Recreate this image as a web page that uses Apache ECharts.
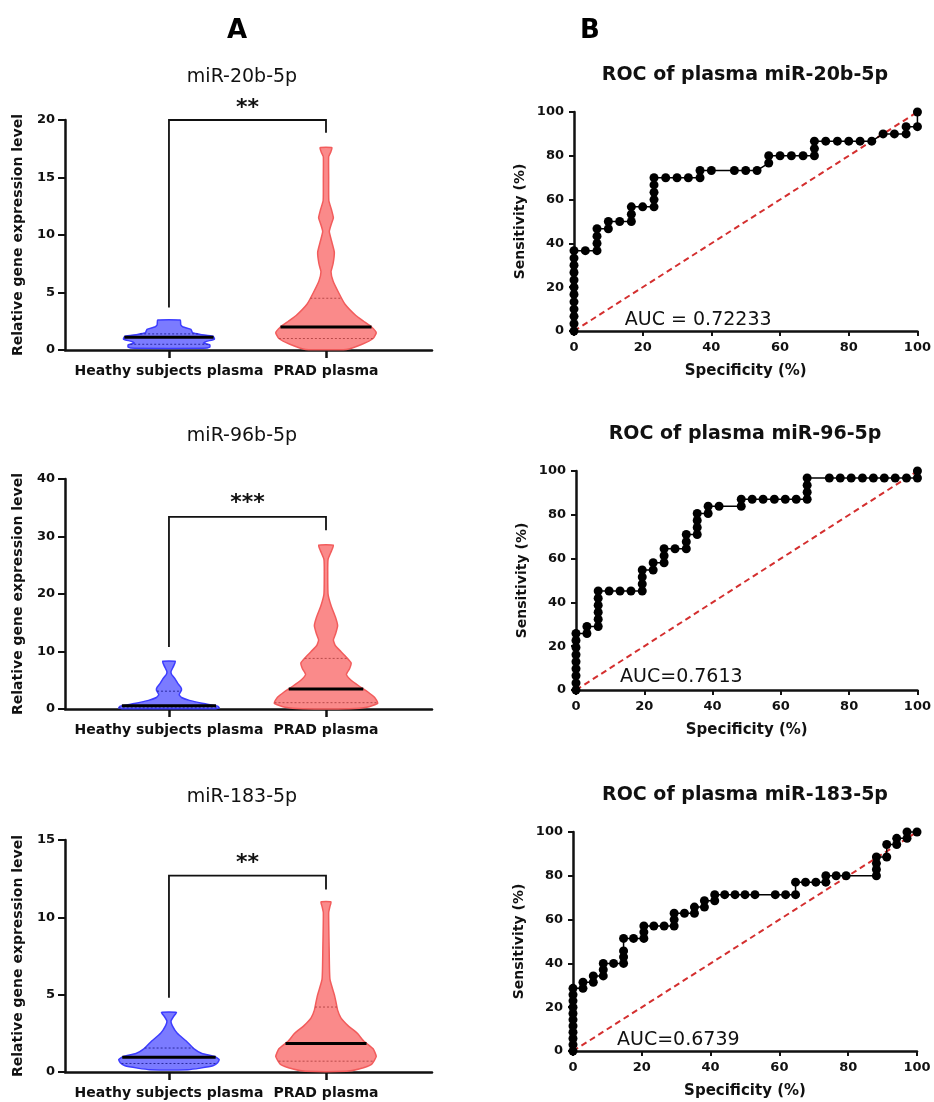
<!DOCTYPE html>
<html>
<head>
<meta charset="utf-8">
<script src="https://cdn.jsdelivr.net/npm/echarts@6/dist/echarts.min.js"></script>
<style>
  html, body { margin: 0; padding: 0; background: #fff; }
  #chart { width: 934px; height: 1102px; }
</style>
</head>
<body>
<div id="chart"></div>
<script>
const FONT = "DejaVu Sans";

const groupNames = ["Heathy subjects plasma", "PRAD plasma"];
const violinTitles = ["miR-20b-5p", "miR-96b-5p", "miR-183-5p"];
const rocTitles = ["ROC of plasma miR-20b-5p", "ROC of plasma miR-96-5p", "ROC of plasma miR-183-5p"];
const aucLabels = ["AUC = 0.72233", "AUC=0.7613", "AUC=0.6739"];
const sigStars = ["**", "***", "**"];
const violinMax = [20, 40, 15];
const violinStep = [5, 10, 5];

// violin outlines: [expression level, half width in group units]
const healthy20b = [[0.15,0.22],[0.25,0.26],[0.45,0.26],[0.6,0.22],[0.75,0.24],[0.95,0.29],[1.2,0.28],[1.35,0.2],[1.5,0.15],[1.8,0.14],[2.0,0.09],[2.2,0.075],[2.6,0.072]];
const prad20b = [[0.05,0.13],[0.5,0.23],[1.0,0.3],[1.5,0.32],[2.0,0.29],[2.5,0.24],[3.0,0.19],[4.0,0.12],[5.0,0.08],[6.0,0.045],[6.8,0.032],[7.5,0.045],[8.5,0.053],[9.5,0.035],[10.3,0.021],[11.0,0.035],[11.5,0.047],[12.2,0.035],[13,0.018],[15,0.017],[16.8,0.017],[17.2,0.03],[17.6,0.038]];
const healthy96 = [[0.05,0.3],[0.2,0.32],[0.5,0.31],[1.0,0.21],[1.5,0.13],[2.0,0.08],[2.5,0.065],[3.3,0.08],[3.8,0.075],[4.5,0.055],[5.2,0.04],[6.0,0.017],[6.5,0.013],[7.5,0.03],[8.3,0.04]];
const prad96 = [[0.05,0.15],[0.3,0.26],[1.0,0.33],[2.0,0.31],[3.0,0.265],[4.0,0.21],[5.0,0.16],[6.0,0.13],[7.0,0.15],[8.0,0.16],[9.0,0.13],[10.0,0.095],[11.0,0.06],[12.0,0.047],[13.0,0.06],[14.5,0.074],[16.0,0.06],[18.0,0.032],[20.0,0.013],[24,0.011],[26,0.013],[27.5,0.035],[28.5,0.047]];
const healthy183 = [[0.15,0.12],[0.25,0.2],[0.4,0.28],[0.6,0.31],[0.8,0.32],[1.0,0.29],[1.2,0.21],[1.5,0.16],[2.0,0.11],[2.5,0.053],[3.0,0.021],[3.3,0.013],[3.6,0.03],[3.85,0.047]];
const prad183 = [[0.05,0.13],[0.2,0.21],[0.5,0.29],[1.0,0.32],[1.5,0.3],[2.0,0.24],[2.5,0.2],[3.0,0.14],[3.5,0.095],[4.0,0.074],[4.5,0.064],[5.0,0.053],[6.0,0.025],[8,0.02],[10.3,0.017],[10.7,0.025],[11,0.032]];

// [median, lower quartile, upper quartile]
const healthy20bStats = [1.1, 0.5, 1.4];
const prad20bStats = [2.0, 1.0, 4.5];
const healthy96Stats = [0.55, 0.2, 3.1];
const prad96Stats = [3.5, 1.1, 8.8];
const healthy183Stats = [0.95, 0.55, 1.55];
const prad183Stats = [1.85, 0.7, 4.2];

// significance bracket: [left leg end, bar level, right leg end, stars level]
const bracket20b = [3.7, 20, 18.9, 21.0];
const bracket96 = [10.8, 33.4, 31.1, 35.8];
const bracket183 = [4.8, 12.7, 11.8, 13.5];

// ROC points (specificity %, sensitivity %)
const roc20bSpec = [0,0,0,0,0,0,0,0,0,0,0,0,3.3,6.7,6.7,6.7,6.7,10,10,13.3,16.7,16.7,16.7,20,23.3,23.3,23.3,23.3,23.3,26.7,30,33.3,36.7,36.7,40,46.7,50,53.3,56.7,56.7,60,63.3,66.7,70,70,70,73.3,76.7,80,83.3,86.7,90,93.3,96.7,96.7,100,100];
const roc20bSens = [0,3.3,6.7,10,13.3,16.7,20,23.3,26.7,30,33.3,36.7,36.7,36.7,40,43.3,46.7,46.7,50,50,50,53.3,56.7,56.7,56.7,60,63.3,66.7,70,70,70,70,70,73.3,73.3,73.3,73.3,73.3,76.7,80,80,80,80,80,83.3,86.7,86.7,86.7,86.7,86.7,86.7,90,90,90,93.3,93.3,100];

const roc96Spec = [0,0,0,0,0,0,0,0,0,3.2,3.2,6.5,6.5,6.5,6.5,6.5,6.5,9.7,12.9,16.1,19.4,19.4,19.4,19.4,22.6,22.6,25.8,25.8,25.8,29,32.3,32.3,32.3,35.5,35.5,35.5,35.5,38.7,38.7,41.9,48.4,48.4,51.6,54.8,58.1,61.3,64.5,67.7,67.7,67.7,67.7,74.2,77.4,80.6,83.9,87.1,90.3,93.5,96.8,100,100];
const roc96Sens = [0,3.2,6.5,9.7,12.9,16.1,19.4,22.6,25.8,25.8,29,29,32.3,35.5,38.7,41.9,45.2,45.2,45.2,45.2,45.2,48.4,51.6,54.8,54.8,58.1,58.1,61.3,64.5,64.5,64.5,67.7,71,71,74.2,77.4,80.6,80.6,83.9,83.9,83.9,87.1,87.1,87.1,87.1,87.1,87.1,87.1,90.3,93.5,96.8,96.8,96.8,96.8,96.8,96.8,96.8,96.8,96.8,96.8,100];

const roc183Spec = [0,0,0,0,0,0,0,0,0,0,0,2.9,2.9,5.9,5.9,8.8,8.8,8.8,11.8,14.7,14.7,14.7,14.7,17.6,20.6,20.6,20.6,23.5,26.5,29.4,29.4,29.4,32.4,35.3,35.3,38.2,38.2,41.2,41.2,44.1,47.1,50,52.9,58.8,61.8,64.7,64.7,67.6,70.6,73.5,73.5,76.5,79.4,88.2,88.2,88.2,88.2,91.2,91.2,94.1,94.1,97.1,97.1,100];
const roc183Sens = [0,2.9,5.7,8.6,11.4,14.3,17.1,20,22.9,25.7,28.6,28.6,31.4,31.4,34.3,34.3,37.1,40,40,40,42.9,45.7,51.4,51.4,51.4,54.3,57.1,57.1,57.1,57.1,60,62.9,62.9,62.9,65.7,65.7,68.6,68.6,71.4,71.4,71.4,71.4,71.4,71.4,71.4,71.4,77.1,77.1,77.1,77.1,80,80,80,80,82.9,85.7,88.6,88.6,94.3,94.3,97.1,97.1,100,100];

const chance = [[0, 0], [100, 100]];

const violinColors = [
  { fill: "rgba(100,100,255,0.85)", edge: "#3d3dff", quart: "#2a2aa0" },
  { fill: "rgba(250,125,125,0.9)", edge: "#f25c5c", quart: "#b84a4a" }
];

const violinSets = [
  { profiles: [healthy20b, prad20b], stats: [healthy20bStats, prad20bStats], bracket: bracket20b },
  { profiles: [healthy96, prad96], stats: [healthy96Stats, prad96Stats], bracket: bracket96 },
  { profiles: [healthy183, prad183], stats: [healthy183Stats, prad183Stats], bracket: bracket183 }
];
const rocSets = [
  { spec: roc20bSpec, sens: roc20bSens, auc: [14.8, 5] },
  { spec: roc96Spec, sens: roc96Sens, auc: [12.9, 5.9] },
  { spec: roc183Spec, sens: roc183Sens, auc: [12.8, 5] }
];

function widthAt(prof, v) {
  if (v <= prof[0][0]) return prof[0][1];
  for (let i = 1; i < prof.length; i++) {
    if (v <= prof[i][0]) {
      const a = prof[i - 1], b = prof[i];
      return a[1] + (b[1] - a[1]) * (v - a[0]) / (b[0] - a[0]);
    }
  }
  return prof[prof.length - 1][1];
}

function violinItem(set) {
  return function (params, api) {
    const k = params.dataIndex;
    const prof = set.profiles[k], st = set.stats[k], col = violinColors[k];
    const c = k + 1;
    const pts = prof.map(p => api.coord([c + p[1], p[0]]))
      .concat(prof.slice().reverse().map(p => api.coord([c - p[1], p[0]])));
    const seg = (v, style) => {
      const w = widthAt(prof, v);
      const a = api.coord([c - w, v]), b = api.coord([c + w, v]);
      return { type: "line", shape: { x1: a[0], y1: a[1], x2: b[0], y2: b[1] }, style };
    };
    return {
      type: "group",
      children: [
        { type: "polygon", shape: { points: pts, smooth: 0.15 }, style: { fill: col.fill, stroke: col.edge, lineWidth: 1.5 } },
        seg(st[1], { stroke: col.quart, lineWidth: 1, lineDash: [2, 2] }),
        seg(st[2], { stroke: col.quart, lineWidth: 1, lineDash: [2, 2] }),
        seg(st[0], { stroke: "#000", lineWidth: 3 })
      ]
    };
  };
}

function bracketItem(b, stars) {
  return function (params, api) {
    const pts = [api.coord([1, b[0]]), api.coord([1, b[1]]), api.coord([2, b[1]]), api.coord([2, b[2]])];
    const t = api.coord([1.5, b[3]]);
    return {
      type: "group",
      children: [
        { type: "polyline", shape: { points: pts }, style: { stroke: "#111", lineWidth: 1.8, fill: null } },
        { type: "text", x: t[0], y: t[1], style: { text: stars, font: "bold 22px " + FONT, fill: "#111", align: "center", verticalAlign: "middle" } }
      ]
    };
  };
}

function textItem(pos, label) {
  return function (params, api) {
    const p = api.coord(pos);
    return { type: "text", x: p[0], y: p[1], style: { text: label, font: "19px " + FONT, fill: "#111", align: "left", verticalAlign: "middle" } };
  };
}

const violinGrids = [
  { left: 65, top: 120, width: 367, height: 230 },
  { left: 65, top: 479, width: 367, height: 230 },
  { left: 65, top: 840, width: 367, height: 232 }
];
const rocGrids = [
  { left: 574, top: 112, width: 344, height: 219 },
  { left: 576, top: 471, width: 342, height: 219 },
  { left: 573, top: 832, width: 344, height: 219 }
];

const axisLine = { lineStyle: { color: "#111", width: 2.5 } };
const grid = [], xAxis = [], yAxis = [], series = [], graphic = [];

violinSets.forEach((set, i) => {
  const g = violinGrids[i];
  grid.push(g);
  xAxis.push({
    type: "value", gridIndex: i, min: 0.338, max: 2.675,
    axisLine: axisLine,
    axisTick: { show: true, customValues: [1, 2], length: 8, lineStyle: { color: "#111", width: 2.5 } },
    axisLabel: {
      customValues: [1, 2], margin: 14, color: "#111",
      fontFamily: FONT, fontWeight: "bold", fontSize: 14,
      formatter: v => groupNames[Math.round(v) - 1]
    },
    splitLine: { show: false }
  });
  yAxis.push({
    type: "value", gridIndex: i, min: 0, max: violinMax[i], interval: violinStep[i],
    name: "Relative gene expression level", nameLocation: "middle", nameGap: 40,
    nameTextStyle: { fontFamily: FONT, fontWeight: "bold", fontSize: 14, color: "#111" },
    axisLine: { show: true, lineStyle: { color: "#111", width: 2.5 } },
    axisTick: { show: true, length: 7, lineStyle: { color: "#111", width: 2 } },
    axisLabel: { margin: 10, color: "#111", fontFamily: FONT, fontWeight: "bold", fontSize: 13 },
    splitLine: { show: false }
  });
  series.push({
    type: "custom", xAxisIndex: i, yAxisIndex: i, data: [0, 1],
    renderItem: violinItem(set), silent: true, z: 2
  });
  series.push({
    type: "custom", xAxisIndex: i, yAxisIndex: i, data: [0],
    renderItem: bracketItem(set.bracket, sigStars[i]), silent: true, z: 3
  });
  graphic.push({
    type: "text", x: g.left + 177, y: g.top - 43,
    style: { text: violinTitles[i], font: "19px " + FONT, fill: "#111", align: "center", verticalAlign: "middle" }
  });
});

rocSets.forEach((set, j) => {
  const i = j + 3;
  const g = rocGrids[j];
  grid.push(g);
  xAxis.push({
    type: "value", gridIndex: i, min: 0, max: 100, interval: 20,
    name: "Specificity (%)", nameLocation: "middle", nameGap: 33,
    nameTextStyle: { fontFamily: FONT, fontWeight: "bold", fontSize: 15, color: "#111" },
    axisLine: { lineStyle: { color: "#111", width: 2.5 } },
    axisTick: { show: true, length: 5, lineStyle: { color: "#111", width: 2 } },
    axisLabel: { margin: 10, color: "#111", fontFamily: FONT, fontWeight: "bold", fontSize: 13 },
    splitLine: { show: false }
  });
  yAxis.push({
    type: "value", gridIndex: i, min: 0, max: 100, interval: 20,
    name: "Sensitivity (%)", nameLocation: "middle", nameGap: 47,
    nameTextStyle: { fontFamily: FONT, fontWeight: "bold", fontSize: 14, color: "#111" },
    axisLine: { show: true, lineStyle: { color: "#111", width: 2.5 } },
    axisTick: { show: true, length: 5, lineStyle: { color: "#111", width: 2 } },
    axisLabel: { margin: 10, color: "#111", fontFamily: FONT, fontWeight: "bold", fontSize: 13 },
    splitLine: { show: false }
  });
  series.push({
    type: "line", xAxisIndex: i, yAxisIndex: i, data: chance,
    symbol: "none", clip: false, silent: true, z: 2,
    lineStyle: { color: "#d42f2f", width: 2, type: [6, 4] }
  });
  series.push({
    type: "line", xAxisIndex: i, yAxisIndex: i,
    data: set.spec.map((s, k) => [s, set.sens[k]]),
    symbol: "circle", symbolSize: 9, clip: false, silent: true, z: 3,
    itemStyle: { color: "#000" },
    lineStyle: { color: "#000", width: 1.5 }
  });
  series.push({
    type: "custom", xAxisIndex: i, yAxisIndex: i, data: [0],
    renderItem: textItem(set.auc, aucLabels[j]), silent: true, z: 4
  });
  graphic.push({
    type: "text", x: 745, y: g.top - 37,
    style: { text: rocTitles[j], font: "bold 19px " + FONT, fill: "#111", align: "center", verticalAlign: "middle" }
  });
});

graphic.push(
  { type: "text", x: 237, y: 31, style: { text: "A", font: "bold 26px " + FONT, fill: "#000", align: "center", verticalAlign: "middle" } },
  { type: "text", x: 590, y: 31, style: { text: "B", font: "bold 26px " + FONT, fill: "#000", align: "center", verticalAlign: "middle" } }
);

const chart = echarts.init(document.getElementById("chart"), null, { renderer: "canvas" });
chart.setOption({
  backgroundColor: "#fff",
  animation: false,
  grid, xAxis, yAxis, series, graphic
});
</script>
</body>
</html>
